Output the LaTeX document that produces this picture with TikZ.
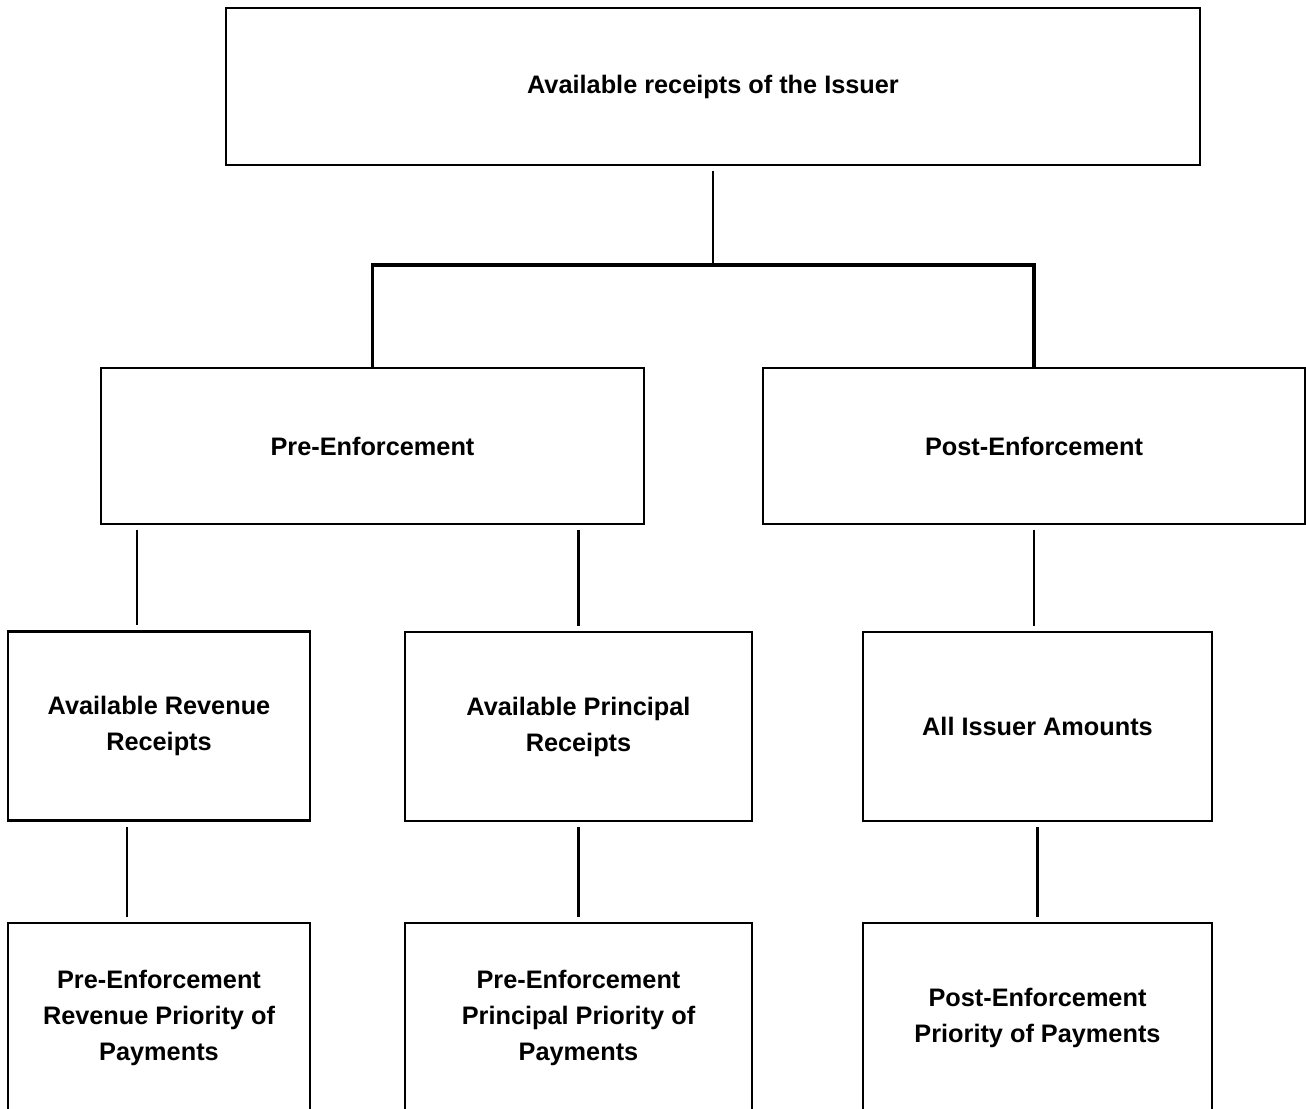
\documentclass[tikz,border=0pt]{standalone}
\usepackage{fontspec}
\setmainfont{Liberation Sans}

\begin{document}
\begin{tikzpicture}[
  x=0.02cm, y=-0.02cm,
  every node/.style={font=\fontsize{14.4}{20.5}\selectfont\bfseries},
  box/.style={draw=black, line width=1.4pt, align=center, inner sep=4pt},
  link/.style={line width=1.5pt},
  gap/.style={shorten <=3pt, shorten >=3pt},
]

\useasboundingbox (0,0) rectangle (1306,1109);

\node[box, minimum width=19.48cm, minimum height=3.14cm] (issuer) at (713,86.5) {Available receipts of the Issuer};

\node[box, minimum width=10.86cm, minimum height=3.12cm] (pre) at (372.5,446) {Pre-Enforcement};
\node[box, minimum width=10.84cm, minimum height=3.12cm] (post) at (1034,446) {Post-Enforcement};

\node[box, minimum width=6.04cm, minimum height=3.78cm] (revenue) at (159,726) {Available Revenue\\Receipts};
\node[box, minimum width=6.94cm, minimum height=3.78cm] (principal) at (578.5,726.5) {Available Principal\\Receipts};
\node[box, minimum width=6.98cm, minimum height=3.78cm] (amounts) at (1037.5,726.5) {All Issuer Amounts};

\node[box, minimum width=6.04cm, minimum height=3.8cm] (revprio) at (159,1018) {Pre-Enforcement\\Revenue Priority of\\Payments};
\node[box, minimum width=6.94cm, minimum height=3.8cm] (prinprio) at (578.5,1018) {Pre-Enforcement\\Principal Priority of\\Payments};
\node[box, minimum width=6.98cm, minimum height=3.8cm] (postprio) at (1037.5,1018) {Post-Enforcement\\Priority of Payments};

\coordinate (bar) at (713,265);

\draw[link, shorten <=3pt] (issuer.south) -- (bar);
\draw[link, line width=1.8pt] (pre.north) |- (bar) -| (post.north);

\draw[link, gap] ([xshift=-0.44cm]revenue.north |- pre.south) -- ([xshift=-0.44cm]revenue.north);
\draw[link, gap] (principal.north |- pre.south) -- (principal.north);
\draw[link, gap] (post.south) -- (amounts.north -| post.south);

\draw[link, gap] ([xshift=-0.64cm]revenue.south) -- ([xshift=-0.64cm]revprio.north);
\draw[link, gap] (principal.south) -- (prinprio.north);
\draw[link, gap] (amounts.south) -- (postprio.north);

\end{tikzpicture}
\end{document}
